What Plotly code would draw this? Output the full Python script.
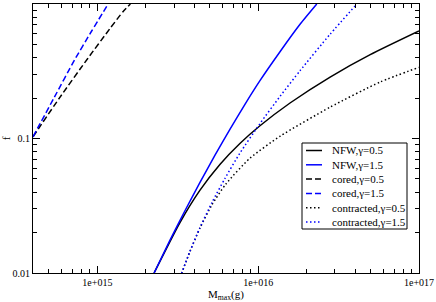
import plotly.graph_objects as go

# --- data (M_max in g, f) ---
nfw05_m = [2.253e15, 3.257e15, 4.339e15, 5.781e15, 7.70e15, 1.026e16, 1.578e16, 2.802e16, 4.973e16, 1.0e17]
nfw05_f = [0.0100, 0.02362, 0.04116, 0.0642, 0.0919, 0.1243, 0.1836, 0.2862, 0.4198, 0.630]

nfw15_m = [2.253e15, 2.821e15, 3.499e15, 4.339e15, 5.380e15, 6.673e15, 8.276e15, 1.026e16, 1.367e16, 1.821e16, 2.314e16]
nfw15_f = [0.0100, 0.01742, 0.0289, 0.04703, 0.07483, 0.1168, 0.1795, 0.2692, 0.4417, 0.7068, 1.0]

cored05_m = [3.98e14, 5.82e14, 8.74e14, 1.193e15, 1.444e15, 1.605e15]
cored05_f = [0.103, 0.2006, 0.3954, 0.652, 0.877, 1.0]

cored15_m = [3.98e14, 5.42e14, 7.22e14, 9.22e14, 1.168e15]
cored15_f = [0.103, 0.204, 0.384, 0.630, 1.0]

contr05_m = [3.337e15, 3.759e15, 4.339e15, 5.153e15, 6.301e15, 8.889e15, 1.367e16, 2.802e16, 5.741e16, 1.0e17]
contr05_f = [0.0099, 0.01434, 0.0215, 0.03207, 0.04592, 0.07134, 0.1039, 0.1711, 0.2633, 0.338]

contr15_m = [3.337e15, 3.759e15, 4.339e15, 5.153e15, 6.21e15, 7.70e15, 1.026e16, 1.367e16, 1.821e16, 2.802e16, 4.109e16]
contr15_f = [0.0099, 0.01444, 0.02165, 0.0333, 0.05035, 0.07785, 0.1291, 0.2055, 0.3193, 0.5968, 1.0]

x_tickvals = [1e15, 1e16, 1e17]
x_ticktext = ["1e+015", "1e+016", "1e+017"]
y_tickvals = [0.01, 0.1, 1]
y_ticktext = ["0.01", "0.1", "1"]

BLUE = "#0000ff"
BLACK = "#000000"
DASH = "6px,3px"
DOT = "1.5px,2.5px"
series = [
    ("NFW,γ=0.5", nfw05_m, nfw05_f, BLACK, "solid"),
    ("NFW,γ=1.5", nfw15_m, nfw15_f, BLUE, "solid"),
    ("cored,γ=0.5", cored05_m, cored05_f, BLACK, DASH),
    ("cored,γ=1.5", cored15_m, cored15_f, BLUE, DASH),
    ("contracted,γ=0.5", contr05_m, contr05_f, BLACK, DOT),
    ("contracted,γ=1.5", contr15_m, contr15_f, BLUE, DOT),
]

W, H = 436, 302
ML, MR, MT, MB = 33, 17, 4, 29
PW, PH = W - ML - MR, H - MT - MB


def px_x(p):
    return (p - ML) / PW


def px_y(p):
    return (H - MB - p) / PH


fig = go.Figure()
for name, xs, ys, col, dash in series:
    fig.add_trace(go.Scatter(x=xs, y=ys, mode="lines", name=name, showlegend=False,
                             line=dict(color=col, width=1.5, dash=dash,
                                       shape="spline", smoothing=0.6)))

FONT = "Liberation Serif, Times New Roman, serif"

# legend box drawn as shapes + annotations
shapes = [dict(type="rect", xref="paper", yref="paper", layer="above",
               x0=px_x(302), x1=px_x(407), y0=px_y(229), y1=px_y(143),
               line=dict(color="black", width=1), fillcolor="white")]
annotations = []
for i, (name, xs, ys, col, dash) in enumerate(series):
    py = 150.5 + 14.3 * i
    shapes.append(dict(type="line", xref="paper", yref="paper", layer="above",
                       x0=px_x(306), x1=px_x(322), y0=px_y(py), y1=px_y(py),
                       line=dict(color=col, width=1.5, dash=dash)))
    annotations.append(dict(xref="paper", yref="paper", x=px_x(330), y=px_y(py),
                            xanchor="left", yanchor="middle", showarrow=False,
                            text=name, font=dict(family=FONT, size=11, color="black")))

minor_x = [m * 10 ** e for e in (14, 15, 16) for m in range(2, 10)]
minor_y = [m * 10 ** e for e in (-2, -1) for m in range(2, 10)]

fig.update_layout(
    width=W, height=H,
    margin=dict(l=ML, r=MR, t=MT, b=MB, pad=0),
    paper_bgcolor="white", plot_bgcolor="white",
    font=dict(family=FONT, size=10, color="black"),
    showlegend=False,
    shapes=shapes, annotations=annotations,
    xaxis=dict(type="log", range=[14.6, 17.0], automargin=False,
               tickmode="array", tickvals=x_tickvals, ticktext=x_ticktext,
               ticks="inside", ticklen=7, tickwidth=1, tickcolor="black",
               showline=True, linecolor="black", linewidth=1, mirror="allticks",
               showgrid=False, zeroline=False,
               tickfont=dict(family=FONT, size=10),
               minor=dict(tickmode="array", tickvals=minor_x, ticks="inside",
                          ticklen=4, tickcolor="black", showgrid=False),
               title=dict(text="M<sub>max</sub>(g)", standoff=0,
                          font=dict(family=FONT, size=11))),
    yaxis=dict(type="log", range=[-2, 0], automargin=False,
               tickmode="array", tickvals=y_tickvals, ticktext=y_ticktext,
               ticks="inside", ticklen=7, tickwidth=1, tickcolor="black",
               showline=True, linecolor="black", linewidth=1, mirror="allticks",
               showgrid=False, zeroline=False,
               tickfont=dict(family=FONT, size=10),
               minor=dict(tickmode="array", tickvals=minor_y, ticks="inside",
                          ticklen=4, tickcolor="black", showgrid=False),
               title=dict(text="f", standoff=3,
                          font=dict(family=FONT, size=11))),
)

fig.write_html("out.html", config={"displayModeBar": False},
               post_script="document.body.style.margin='0px';")
